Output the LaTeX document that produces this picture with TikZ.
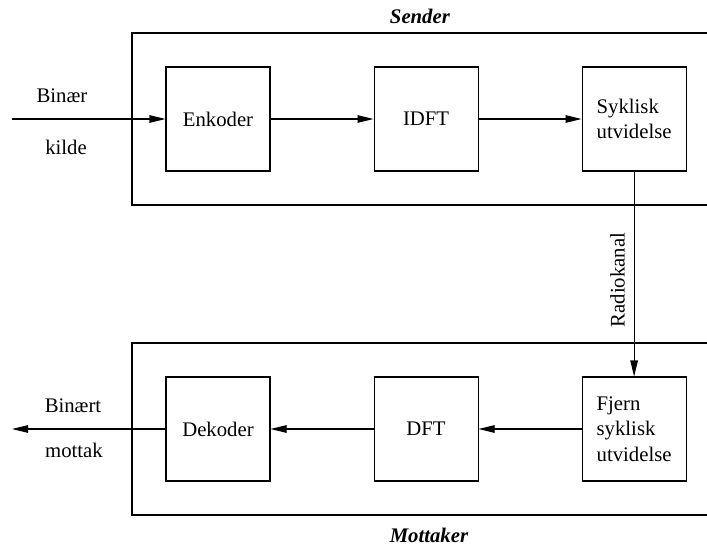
\documentclass[tikz,border=0pt]{standalone}
\usepackage{fontspec}
\setmainfont{Liberation Serif}
\usepackage{tikz}
\usetikzlibrary{arrows.meta,positioning}

\begin{document}
\begin{tikzpicture}[
	font=\fontsize{11.8}{14.6}\selectfont,
	blokk/.style={draw, line width=0.6pt, minimum width=2.08cm, minimum height=2.08cm, align=left, inner sep=0pt},
	pil/.style={-{Triangle[length=3.2mm,width=1.5mm]}, line width=0.6pt},
	ramme/.style={draw, line width=0.6pt}]
	\clip (0,0) rectangle (14.14,10.96);
	% sender
	\draw[ramme] (2.64,6.86) rectangle (14.6,10.30);
	\node (sender) at (8.40,10.64) {\textbf{\textit{Sender}}};
	\node[blokk] (enkoder) at (4.36,8.58) {Enkoder};
	\node[blokk, right=2.06cm of enkoder] (idft) {IDFT};
	\node[blokk, right=2.06cm of idft] (syklisk) {Syklisk\\utvidelse};
	% mottaker
	\draw[ramme] (2.64,0.66) rectangle (14.6,4.10);
	\node (mottaker) at (8.58,0.26) {\textbf{\textit{Mottaker}}};
	\node[blokk] (dekoder) at (4.36,2.38) {Dekoder};
	\node[blokk, right=2.06cm of dekoder] (dft) {DFT};
	\node[blokk, right=2.06cm of dft] (fjern) {Fjern\\syklisk\\utvidelse};
	% inn og ut
	\coordinate (inn) at (0.24,8.58);
	\coordinate (ut) at (0.24,2.38);
	\node (binaer) at (1.24,9.04) {Binær};
	\node (kilde) at (1.32,8.02) {kilde};
	\node (binaert) at (1.46,2.84) {Binært};
	\node (mottak) at (1.48,1.96) {mottak};
	\draw[pil] (inn) -- (enkoder);
	\draw[pil] (enkoder) -- (idft);
	\draw[pil] (idft) -- (syklisk);
	\draw[pil] (syklisk) -- node[pos=0.53, rotate=90, anchor=south, inner ysep=5pt] {Radiokanal} (fjern);
	\draw[pil] (fjern) -- (dft);
	\draw[pil] (dft) -- (dekoder);
	\draw[pil] (dekoder) -- (ut);
\end{tikzpicture}
\end{document}
